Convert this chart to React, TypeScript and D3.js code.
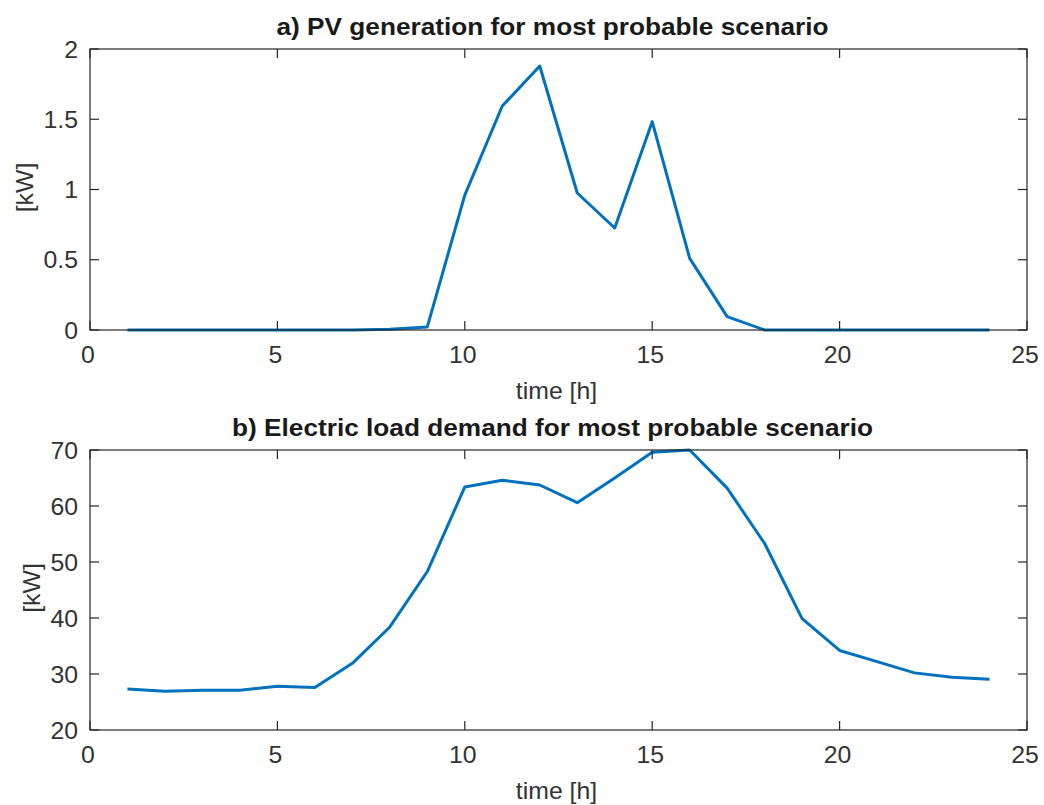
import React from "react";
import * as d3 from "d3";

const hours = [1,2,3,4,5,6,7,8,9,10,11,12,13,14,15,16,17,18,19,20,21,22,23,24];
const pvValues = [0,0,0,0,0,0,0,0.005,0.022,0.96,1.594,1.879,0.975,0.726,1.483,0.51,0.095,0,0,0,0,0,0,0];
const loadValues = [27.3,26.9,27.1,27.1,27.8,27.6,31.9,38.4,48.3,63.4,64.6,63.75,60.6,65.0,69.6,70.0,63.2,53.3,39.9,34.2,32.2,30.2,29.4,29.05];
const xTicks = [0,5,10,15,20,25];
const pvTicks = [0,0.5,1,1.5,2];
const loadTicks = [20,30,40,50,60,70];
const titles = ["a) PV generation for most probable scenario", "b) Electric load demand for most probable scenario"];

const W = 1044, H = 805;
const left = 90, right = 1027;
const FONT = "'Liberation Sans', Arial, Helvetica, sans-serif";
const AX = "#262626";
const LINE = "#0072BD";
const SX = 1.08;

function T({ x, y, anchor = "middle", size = 23, weight = "normal", sx = SX, fill = "#333", rotate = 0, children }: any) {
  return (
    <text
      transform={`translate(${x},${y}) rotate(${rotate}) scale(${sx},1)`}
      textAnchor={anchor}
      fontFamily={FONT}
      fontSize={size}
      fontWeight={weight}
      fill={fill}
    >
      {children}
    </text>
  );
}

function Panel({ top, bottom, yDomain, yTicks, values, title, ylabX }: any) {
  const x = d3.scaleLinear().domain([0, 25]).range([left, right]);
  const y = d3.scaleLinear().domain(yDomain).range([bottom, top]);
  const line = d3.line<number>().x((_, i) => x(hours[i])).y((v) => y(v));
  const tl = 9;
  const cx = (left + right) / 2;
  return (
    <g>
      <T x={cx - 6} y={top - 14} size={23} weight="bold" sx={1.14} fill="#1a1a1a">{title}</T>
      <path d={line(values) || ""} fill="none" stroke={LINE} strokeWidth={3} strokeLinejoin="round" />
      <rect x={left} y={top} width={right - left} height={bottom - top} fill="none" stroke={AX} strokeWidth={1.2} />
      {xTicks.map((t) => (
        <g key={"x" + t}>
          <line x1={x(t)} x2={x(t)} y1={bottom} y2={bottom - tl} stroke={AX} strokeWidth={1.2} />
          <line x1={x(t)} x2={x(t)} y1={top} y2={top + tl} stroke={AX} strokeWidth={1.2} />
          <T x={x(t) - 2} y={bottom + 33}>{d3.format("")(t)}</T>
        </g>
      ))}
      {yTicks.map((t: number) => (
        <g key={"y" + t}>
          <line x1={left} x2={left + tl} y1={y(t)} y2={y(t)} stroke={AX} strokeWidth={1.2} />
          <line x1={right} x2={right - tl} y1={y(t)} y2={y(t)} stroke={AX} strokeWidth={1.2} />
          <T x={78} y={y(t) + 8.5} anchor="end">{String(t)}</T>
        </g>
      ))}
      <T x={cx - 2} y={bottom + 69}>time [h]</T>
      <T x={ylabX} y={(top + bottom) / 2 - 2} rotate={-90}>[kW]</T>
    </g>
  );
}

export default function App() {
  return (
    <svg width={W} height={H} style={{ position: "absolute", left: 0, top: 0, background: "#fff" }}>
      <rect width={W} height={H} fill="#fff" />
      <Panel top={49} bottom={330} yDomain={[0, 2]} yTicks={pvTicks} values={pvValues} title={titles[0]} ylabX={33} />
      <Panel top={450} bottom={730} yDomain={[20, 70]} yTicks={loadTicks} values={loadValues} title={titles[1]} ylabX={40} />
    </svg>
  );
}
